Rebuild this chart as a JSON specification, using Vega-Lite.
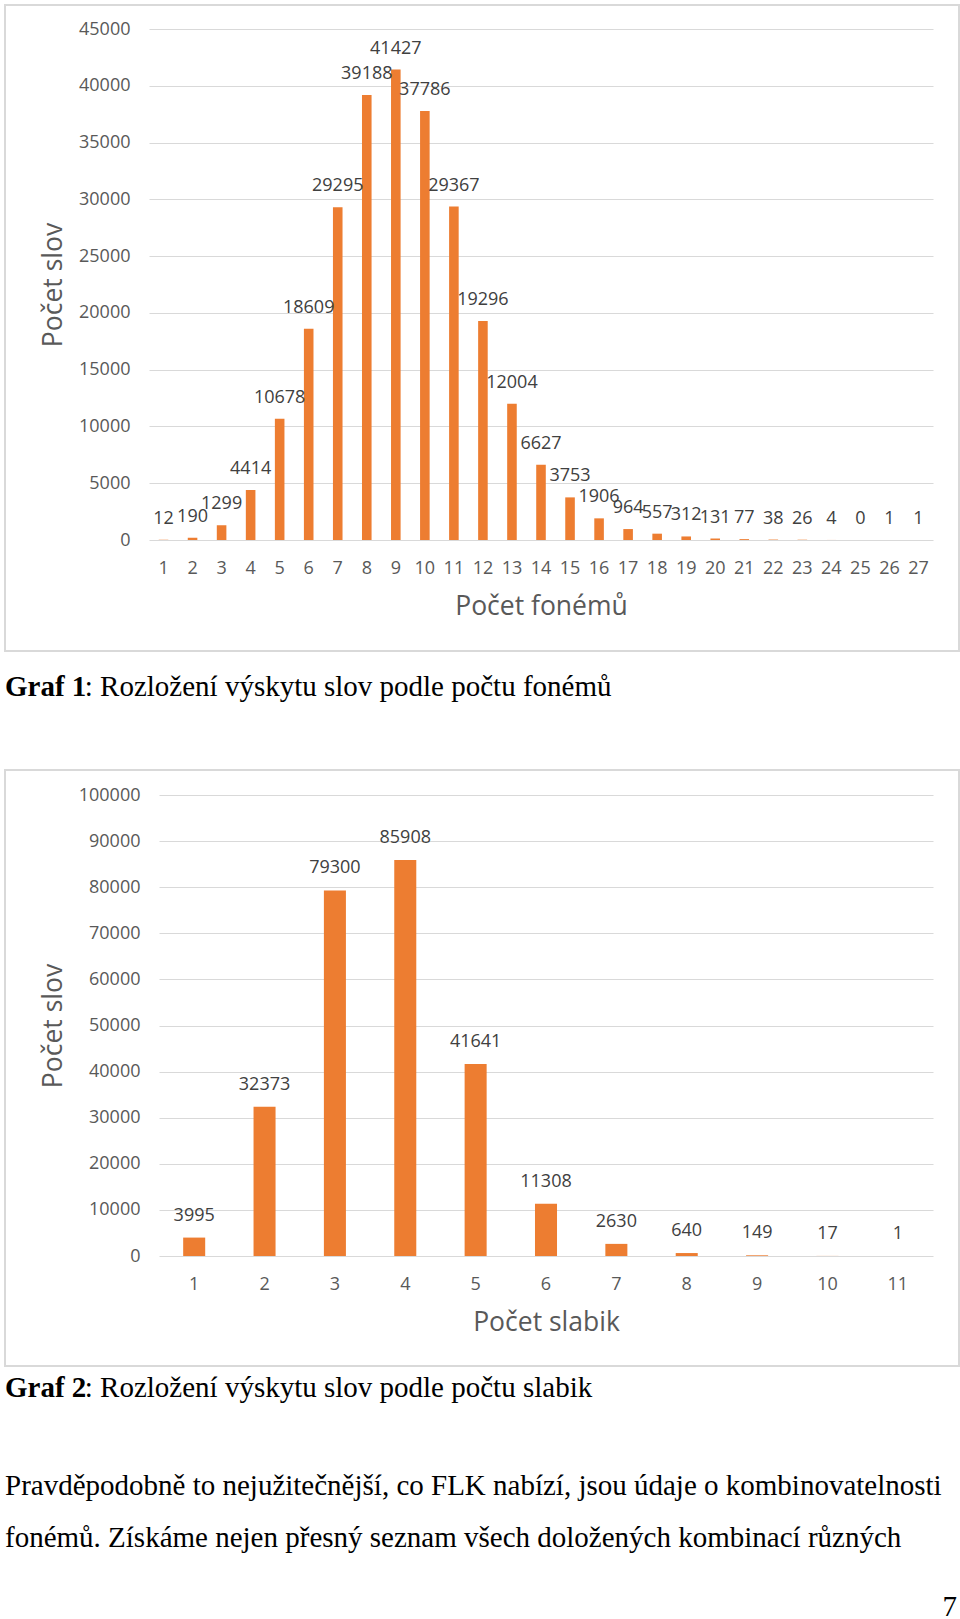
{
  "$schema": "https://vega.github.io/schema/vega-lite/v6.json",
  "padding": {"left": 4, "top": 4, "right": 2, "bottom": 0},
  "background": "white",
  "bounds": "flush",
  "spacing": 119,
  "datasets": {
    "fonemy": [
      {"pocet": 1, "slova": 12}, {"pocet": 2, "slova": 190}, {"pocet": 3, "slova": 1299},
      {"pocet": 4, "slova": 4414}, {"pocet": 5, "slova": 10678}, {"pocet": 6, "slova": 18609},
      {"pocet": 7, "slova": 29295}, {"pocet": 8, "slova": 39188}, {"pocet": 9, "slova": 41427},
      {"pocet": 10, "slova": 37786}, {"pocet": 11, "slova": 29367}, {"pocet": 12, "slova": 19296},
      {"pocet": 13, "slova": 12004}, {"pocet": 14, "slova": 6627}, {"pocet": 15, "slova": 3753},
      {"pocet": 16, "slova": 1906}, {"pocet": 17, "slova": 964}, {"pocet": 18, "slova": 557},
      {"pocet": 19, "slova": 312}, {"pocet": 20, "slova": 131}, {"pocet": 21, "slova": 77},
      {"pocet": 22, "slova": 38}, {"pocet": 23, "slova": 26}, {"pocet": 24, "slova": 4},
      {"pocet": 25, "slova": 0}, {"pocet": 26, "slova": 1}, {"pocet": 27, "slova": 1}
    ],
    "slabiky": [
      {"pocet": 1, "slova": 3995}, {"pocet": 2, "slova": 32373}, {"pocet": 3, "slova": 79300},
      {"pocet": 4, "slova": 85908}, {"pocet": 5, "slova": 41641}, {"pocet": 6, "slova": 11308},
      {"pocet": 7, "slova": 2630}, {"pocet": 8, "slova": 640}, {"pocet": 9, "slova": 149},
      {"pocet": 10, "slova": 17}, {"pocet": 11, "slova": 1}
    ]
  },
  "config": {
    "view": {"stroke": "#d9d9d9", "strokeWidth": 2},
    "font": "Open Sans",
    "axis": {
      "labelFont": "Open Sans", "labelFontSize": 18, "labelColor": "#595959",
      "titleFont": "Open Sans", "titleFontSize": 26.5, "titleFontWeight": "normal", "titleColor": "#595959",
      "ticks": false, "tickSize": 0, "domain": false, "gridColor": "#d9d9d9", "gridWidth": 1
    },
    "title": {
      "font": "Liberation Serif", "fontSize": 29, "fontWeight": "bold", "color": "#000000",
      "subtitleFont": "Liberation Serif", "subtitleFontSize": 29, "subtitleFontWeight": "normal",
      "subtitleColor": "#000000", "subtitlePadding": -29,
      "anchor": "start", "frame": "group", "orient": "bottom"
    }
  },
  "vconcat": [
    {
      "width": 954, "height": 646,
      "data": {"name": "fonemy"},
      "title": {"text": "Graf 1", "subtitle": "\u200b\u00a0\u00a0\u00a0\u00a0\u00a0\u00a0\u00a0\u00a0\u00a0\u00a0\u00a0: Rozložení výskytu slov podle počtu fonémů", "offset": 22},
      "encoding": {
        "x": {"field": "pocet", "type": "ordinal",
          "scale": {"range": [144, 928], "paddingInner": 0.67, "paddingOuter": 0.335},
          "axis": {"title": "Počet fonémů", "labelAngle": 0, "offset": -111, "labelPadding": 19, "titlePadding": 16}},
        "y": {"field": "slova", "type": "quantitative",
          "scale": {"domain": [0, 45000], "range": [535, 24], "nice": false},
          "axis": {"title": "Počet slov", "values": [0, 5000, 10000, 15000, 20000, 25000, 30000, 35000, 40000, 45000],
            "format": "d", "grid": true, "offset": -144, "labelPadding": 19, "titlePadding": 11}}
      },
      "layer": [
        {"mark": {"type": "bar", "color": "#ED7D31"}},
        {"mark": {"type": "text", "baseline": "middle", "dy": -21, "fontSize": 18, "font": "Open Sans", "color": "#404040"},
         "encoding": {"text": {"field": "slova", "type": "quantitative", "format": "d"}}}
      ]
    },
    {
      "width": 954, "height": 596,
      "data": {"name": "slabiky"},
      "title": {"text": "Graf 2", "subtitle": "\u200b\u00a0\u00a0\u00a0\u00a0\u00a0\u00a0\u00a0\u00a0\u00a0\u00a0\u00a0: Rozložení výskytu slov podle počtu slabik", "offset": 8},
      "encoding": {
        "x": {"field": "pocet", "type": "ordinal",
          "scale": {"range": [154, 928], "paddingInner": 0.687, "paddingOuter": 0.3435},
          "axis": {"title": "Počet slabik", "labelAngle": 0, "offset": -110, "labelPadding": 19, "titlePadding": 16}},
        "y": {"field": "slova", "type": "quantitative",
          "scale": {"domain": [0, 100000], "range": [486, 25], "nice": false},
          "axis": {"title": "Počet slov", "values": [0, 10000, 20000, 30000, 40000, 50000, 60000, 70000, 80000, 90000, 100000],
            "format": "d", "grid": true, "offset": -154, "labelPadding": 19, "titlePadding": 11}}
      },
      "layer": [
        {"mark": {"type": "bar", "color": "#ED7D31"}},
        {"mark": {"type": "text", "baseline": "middle", "dy": -22, "fontSize": 18, "font": "Open Sans", "color": "#404040"},
         "encoding": {"text": {"field": "slova", "type": "quantitative", "format": "d"}}}
      ]
    },
    {
      "width": 954, "height": 131,
      "view": {"stroke": null},
      "layer": [
        {
          "data": {"values": [
            {"radek": 1, "text": "Pravděpodobně to nejužitečnější, co FLK nabízí, jsou údaje o kombinovatelnosti"},
            {"radek": 2, "text": "fonémů. Získáme nejen přesný seznam všech doložených kombinací různých"}
          ]},
          "mark": {"type": "text", "align": "left", "baseline": "alphabetic", "font": "Liberation Serif", "fontSize": 29, "color": "#000000"},
          "encoding": {
            "x": {"value": 0},
            "y": {"field": "radek", "type": "ordinal", "scale": {"type": "point", "range": [10, 62], "padding": 0}, "axis": null},
            "text": {"field": "text"}
          }
        },
        {
          "data": {"values": [{"strana": "7"}]},
          "mark": {"type": "text", "align": "right", "baseline": "alphabetic", "dx": -2, "font": "Liberation Serif", "fontSize": 29, "color": "#000000"},
          "encoding": {
            "x": {"value": "width"},
            "y": {"value": "height"},
            "text": {"field": "strana"}
          }
        }
      ]
    }
  ]
}
